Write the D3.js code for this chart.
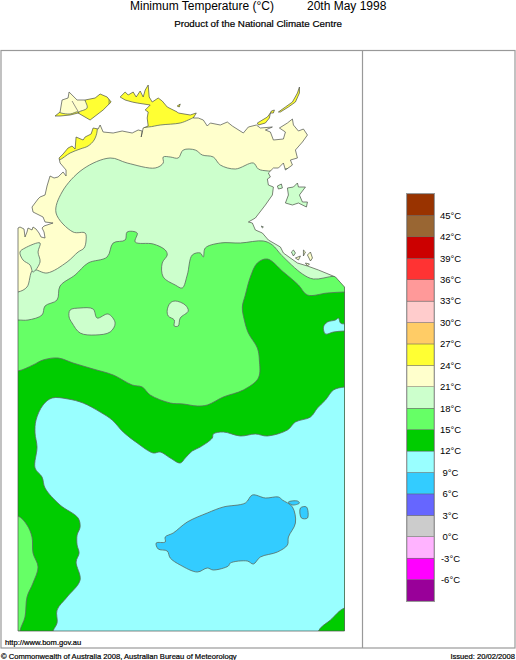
<!DOCTYPE html>
<html>
<head>
<meta charset="utf-8">
<style>
  html, body { margin: 0; padding: 0; background: #fff; }
  svg { display: block; }
  text { font-family: "Liberation Sans", Arial, sans-serif; fill: #000; }
  .small { stroke: #000; stroke-width: 0.2; }
</style>
<script src="https://d3js.org/d3.v7.min.js"></script>
</head>
<body>
<script>
// temperature bands, coldest first
var tempBreaks = [-9, -6, -3, 0, 3, 6, 9, 12, 15, 18, 21, 24, 27, 30, 33, 36, 39, 42, 45, 48];
var bandColours = ["#990099", "#ff00ff", "#ffb3ff", "#cccccc", "#6666ff", "#33ccff", "#99ffff", "#00cc00",
  "#66ff66", "#ccffcc", "#ffffcc", "#ffff33", "#ffcc66", "#ffcccc", "#ff9999", "#ff3333", "#cc0000", "#996633", "#993300"];
var legendTicks = [45, 42, 39, 36, 33, 30, 27, 24, 21, 18, 15, 12, 9, 6, 3, 0, -3, -6];

// everything below is in map grid cells (about 3 km), east and north of the SW corner
var coast = [[0,403],[2,404],[6,402],[7,394],[9,399],[10,403],[14,401],[15,404],[18,402],[21,398],[23,394],[27,393],[26,399],[24,403],[26,405],[35,408],[27,409],[25,414],[15,419],[14,424],[20,432],[22,434],[27,436],[29,445],[32,455],[36,453],[40,454],[45,459],[48,455],[48,461],[42,468],[41,473],
  [45,477],[50,483],[54,485],[57,482],[58,494],[65,491],[67,494],[73,497],[75,503],[80,502],[82,506],[85,499],[95,498],[104,500],[114,498],[120,501],[124,500],[123,494],[125,503],[130,505],[129,513],[130,519],[127,521],[132,526],[119,528],[114,529],[107,531],[102,534],[107,539],[110,536],[115,539],[118,534],[122,540],[125,534],[127,541],[130,546],[131,534],[134,529],[140,533],[144,530],[149,524],[159,519],[160,518],[172,516],[178,518],[175,513],[180,513],[185,511],[189,505],[192,508],[202,506],[209,509],[214,505],[225,498],[230,504],[238,506],[242,503],[254,504],[247,501],[252,499],[255,491],[265,492],[267,499],[261,503],[269,508],[274,512],[275,506],[280,500],[285,502],[289,496],[284,489],[277,481],[279,473],[272,471],[274,466],[267,461],[265,468],[260,463],[255,463],[250,458],[252,454],[249,452],[250,446],[255,444],[254,436],[247,426],[237,413],[230,409],[234,408],[237,401],[244,398],[250,391],[262,384],[265,378],[279,368],[289,365],[300,361],[317,354],[326,344],[326,0],[0,0]];
var tiwi = [[37,515],[42,519],[44,531],[50,533],[51,539],[59,531],[67,531],[77,533],[82,537],[89,534],[93,529],[85,521],[72,511],[60,518],[52,516],[42,515]];
var groote = [[267,428],[270,436],[269,443],[275,444],[279,448],[280,444],[287,444],[281,436],[284,429],[289,429],[288,424],[280,428],[274,426]];
var elcho = [[260,519],[267,524],[274,529],[279,538],[281,544],[281,538],[277,529],[270,524],[262,519]];
var crocker = [[239,508],[249,514],[252,518],[251,513],[247,508],[240,506]];
var goulburn = [[253,520],[256,521],[255,518],[252,518]];
var sandy = [[159,525],[162,527],[161,524]];
var woodah = [[259,445],[263,447],[264,443],[260,442]];
var vanderlin = [[273,379],[275,381],[277,378],[275,375]];
var pellew = [[289,376],[292,379],[294,373],[292,370]];
var pellewWest = [[277,373],[282,375],[280,371]];
var pellewNorth = [[285,381],[287,379],[285,375]];
var pellewSouth = [[287,368],[291,367],[289,365]];
var islet = [[243,405],[245,404],[244,403]];
var strait = [[54,530],[58,523],[61,518]];

// 24-27 areas
var warmTiwi = [[67,534],[69,523],[60,518],[72,506],[97,526],[94,541]];
var warmTiwiTip = [[34,513],[39,520],[43,518],[52,517],[60,519],[60,513]];
var warmDarwin = [[41,471],[52,478],[62,482],[70,485],[76,491],[79,500],[78,507],[42,507],[32,471]];
var warmCobourg = [[130,504],[142,506],[162,508],[170,511],[176,514],[182,519],[182,551],[97,551],[97,504]];
// 18-21
var band18 = [[342,459],[250,460],[240,462],[235,468],[217,462],[202,466],[195,474],[184,476],[177,481],[165,481],[160,473],[152,474],[145,474],[145,468],[137,463],[109,468],[92,473],[65,462],[44,439],[38,418],[55,399],[67,398],[68,391],[66,383],[60,379],[49,369],[29,358],[15,361],[9,344],[0,339],[-18,339],[-18,-19],[342,-19]];
var band18West = [[2,379],[7,383],[22,388],[20,379],[22,369],[15,359],[12,366],[5,371]];
// 15-18
var band15 = [[342,354],[317,355],[295,352],[284,357],[263,376],[254,386],[245,390],[222,388],[202,388],[187,383],[185,374],[182,378],[174,376],[169,356],[164,343],[157,346],[145,354],[144,368],[149,376],[147,381],[135,387],[117,389],[119,398],[109,399],[107,391],[95,388],[89,374],[70,368],[57,356],[42,345],[39,331],[27,325],[24,316],[10,311],[0,311],[-18,311],[-18,-19],[342,-19]];
var blobWest = [[52,321],[62,323],[75,322],[79,313],[90,317],[97,308],[92,299],[77,296],[62,298],[54,308],[51,314]];
var blobCentre = [[149,321],[152,328],[157,330],[167,326],[170,320],[162,313],[160,305],[156,305],[156,311],[150,315]];
// 12-15
var band12 = [[342,339],[326,339],[309,338],[289,336],[280,346],[265,359],[249,372],[239,368],[232,354],[227,336],[224,324],[226,311],[230,298],[239,283],[241,271],[240,253],[225,241],[205,234],[189,226],[179,225],[165,227],[152,228],[132,236],[124,244],[114,246],[95,256],[75,262],[55,268],[40,273],[25,271],[15,266],[0,260],[-18,260],[-18,-19],[342,-19]];
// 9-12
var band9 = [[18,211],[25,226],[34,233],[50,232],[65,228],[82,219],[94,211],[105,199],[119,188],[135,178],[142,179],[152,173],[162,168],[167,173],[174,180],[182,184],[194,193],[195,197],[205,199],[222,195],[237,197],[249,195],[269,201],[277,209],[292,214],[299,223],[307,231],[315,241],[326,244],[342,244],[342,23],[326,23],[312,11],[300,0],[300,-19],[32,-19],[35,0],[39,8],[39,21],[49,34],[62,51],[58,69],[61,78],[59,86],[59,96],[62,104],[60,113],[42,126],[27,143],[24,154],[17,163],[19,184],[17,198]];
var band9East = [[305,304],[309,309],[317,311],[320,313],[322,308],[326,307],[342,307],[342,300],[326,300],[315,299],[307,297]];
var warmSouthWest = [[-18,115],[0,115],[9,106],[14,94],[15,78],[20,64],[15,48],[9,34],[7,14],[2,0],[2,-19],[-18,-19]];
// 6-9
var band6 = [[138,88],[147,89],[147,94],[155,98],[169,109],[189,118],[205,124],[227,128],[234,136],[247,133],[260,134],[264,131],[274,124],[277,108],[270,94],[269,86],[259,79],[242,74],[235,67],[229,70],[212,68],[210,65],[195,61],[189,63],[179,59],[162,66],[152,73],[149,80],[140,82]];
var band6North = [[270,129],[279,130],[281,128],[274,126]];
var band6East = [[282,123],[288,124],[289,113],[283,113]];

var landShapes = [coast, tiwi, groote, elcho, crocker, goulburn, sandy, woodah, vanderlin, pellew, pellewWest, pellewNorth, pellewSouth, islet];
// [shape, a temperature inside it], painted in this order
var contourFills = [
  [warmTiwi, 25], [warmTiwiTip, 25], [warmDarwin, 25], [warmCobourg, 25],
  [band18, 20], [band18West, 20],
  [band15, 16], [blobWest, 20], [blobCentre, 20],
  [band12, 13], [band9, 10], [band9East, 10], [warmSouthWest, 16],
  [band6, 7], [band6North, 7], [band6East, 7]
];
var islandFills = [[elcho, 25], [crocker, 25], [goulburn, 25], [sandy, 25], [groote, 20], [woodah, 20], [vanderlin, 20],
  [pellew, 22], [pellewWest, 22], [pellewNorth, 22], [pellewSouth, 22]];

var width = 516, height = 660;
var svg = d3.select("body").append("svg").attr("width", width).attr("height", height);

var x = d3.scaleLinear().domain([0, 326]).range([18, 344.5]);
var y = d3.scaleLinear().domain([0, 581]).range([631, 50]);
var colour = d3.scaleThreshold().domain(tempBreaks.slice(1, -1)).range(bandColours);
var line = d3.line().x(function(d) { return x(d[0]); }).y(function(d) { return y(d[1]); });
var contour = d3.line().x(function(d) { return x(d[0]); }).y(function(d) { return y(d[1]); })
  .curve(d3.curveCatmullRomClosed.alpha(0.5));
var ring = function(d) { return line(d) + "Z"; };

// titles
svg.append("text").attr("x", 130).attr("y", 10).style("font-size", "12px").text("Minimum Temperature (°C)");
svg.append("text").attr("x", 307).attr("y", 10).style("font-size", "12px").text("20th May 1998");
svg.append("text").attr("class", "small").attr("x", 258).attr("y", 27).attr("text-anchor", "middle").style("font-size", "9.8px").text("Product of the National Climate Centre");

// frame
svg.append("rect").attr("x", 1).attr("y", 50.5).attr("width", 514).attr("height", 597.5)
  .attr("fill", "none").attr("stroke", "#999").attr("stroke-width", 1.2);
svg.append("line").attr("x1", 362.5).attr("x2", 362.5).attr("y1", 50).attr("y2", 648)
  .attr("stroke", "#999").attr("stroke-width", 1.2);

// map
svg.append("clipPath").attr("id", "land").selectAll("path").data(landShapes)
  .enter().append("path").attr("d", ring);

svg.append("g").selectAll("path").data(landShapes)
  .enter().append("path").attr("d", ring).attr("fill", colour(22));

svg.append("g").attr("clip-path", "url(#land)").selectAll("path").data(contourFills)
  .enter().append("path")
  .attr("d", function(d) { return contour(d[0]); })
  .attr("fill", function(d) { return colour(d[1]); })
  .attr("stroke", "#5a6a60").attr("stroke-width", 0.8);

svg.append("g").selectAll("path").data(islandFills)
  .enter().append("path")
  .attr("d", function(d) { return ring(d[0]); })
  .attr("fill", function(d) { return colour(d[1]); });

svg.append("path").attr("d", line(strait)).attr("fill", "none").attr("stroke", "#666").attr("stroke-width", 0.7);

svg.append("g").selectAll("path").data(landShapes)
  .enter().append("path").attr("d", ring)
  .attr("fill", "none").attr("stroke", "#4a4f4a").attr("stroke-width", 0.7);

// legend
var legendY = d3.scaleLinear().domain([48, -9]).range([194, 601]);
var bands = d3.pairs(tempBreaks);
svg.append("g").selectAll("rect").data(bands)
  .enter().append("rect")
  .attr("x", 407).attr("width", 27)
  .attr("y", function(d) { return legendY(d[1]); })
  .attr("height", function(d) { return legendY(d[0]) - legendY(d[1]); })
  .attr("fill", function(d) { return colour(d[0]); })
  .attr("stroke", "#555").attr("stroke-width", 0.4);
svg.append("rect").attr("x", 406.5).attr("y", 193.5).attr("width", 28).attr("height", 408)
  .attr("fill", "none").attr("stroke", "#999");

var axis = d3.axisRight(legendY).tickValues(legendTicks).tickSize(0)
  .tickFormat(function(d) { return (d < 0 ? "-" + (-d) : d) + "°C"; });
var axisG = svg.append("g").attr("transform", "translate(450.5,0)").call(axis);
axisG.select(".domain").remove();
axisG.selectAll("text").attr("x", 0).attr("dy", "0.3em").attr("text-anchor", "middle")
  .style("font-size", "9.5px").style("font-family", '"Liberation Sans", Arial, sans-serif');

// footer
svg.append("text").attr("class", "small").attr("x", 5).attr("y", 645).style("font-size", "7.6px").text("http://www.bom.gov.au");
svg.append("text").attr("class", "small").attr("x", 1).attr("y", 659).style("font-size", "7.6px").text("© Commonwealth of Australia 2008, Australian Bureau of Meteorology");
svg.append("text").attr("class", "small").attr("x", 515).attr("y", 659).attr("text-anchor", "end").style("font-size", "7.6px").text("Issued: 20/02/2008");
</script>
</body>
</html>
